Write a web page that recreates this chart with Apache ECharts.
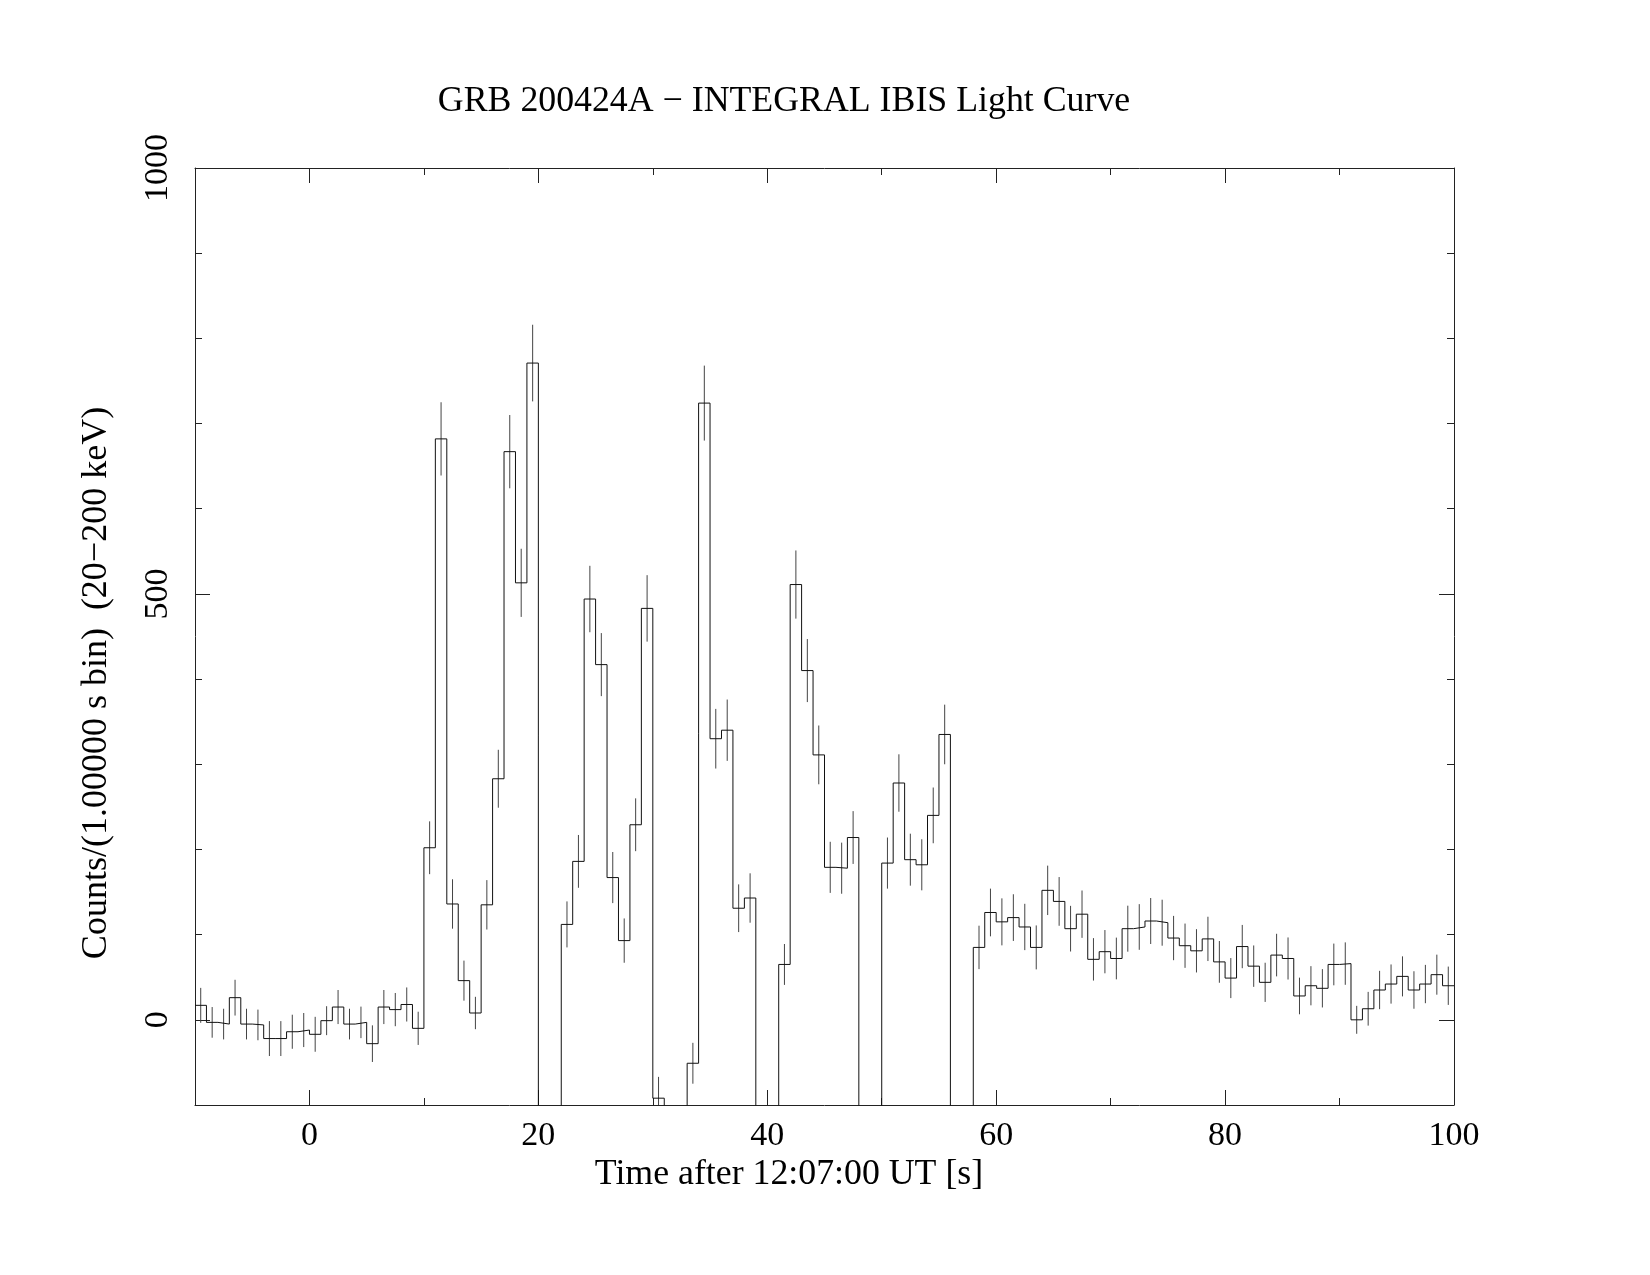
<!DOCTYPE html>
<html><head><meta charset="utf-8">
<script src="https://cdn.jsdelivr.net/npm/echarts@6/dist/echarts.min.js"></script>
<style>html,body{margin:0;padding:0;background:#fff}#c{width:1650px;height:1275px}</style>
</head><body><div id="c"></div>
<script>
// Bin start times (s after 12:07:00 UT), 1.0 s bins
const binStart = [-10,-9,-8,-7,-6,-5,-4,-3,-2,-1,0,1,2,3,4,5,6,7,8,9,10,11,12,13,14,15,16,17,18,19,
20,21,22,23,24,25,26,27,28,29,30,31,32,33,34,35,36,37,38,39,40,41,42,43,44,45,46,47,48,49,
50,51,52,53,54,55,56,57,58,59,60,61,62,63,64,65,66,67,68,69,70,71,72,73,74,75,76,77,78,79,
80,81,82,83,84,85,86,87,88,89,90,91,92,93,94,95,96,97,98,99];
const BIN_WIDTH = 1;
// Counts per bin (values below the plotted range are off-scale, estimated)
const counts = [17,-3,-5,26,-5,-6,-22,-22,-14,-12,-17,-1,15,-5,-3,-28,15,12,18,-10,
202,682,136,46,8,135,283,667,513,771,
-200,-200,112,186,494,417,167,93,229,483,
-92,-200,-200,-51,724,330,340,131,143,-200,
-200,65,511,410,311,179,178,214,-200,-200,
184,278,188,182,240,335,-200,-200,85,126,
115,120,109,85,152,139,107,124,71,80,
72,107,109,116,114,96,87,81,95,68,
49,86,63,44,76,72,28,40,37,65,
66,0,13,35,42,51,35,42,53,40];
// 1-sigma errors per bin (null = off-scale)
const errors = [20.5,18,18,21,18,18,20.5,20.5,20,20,20.5,17,20,18,18.5,21.5,20,19.5,20,19.5,
31,43,29,23.5,19,29,34,43,40,45,
null,null,27,31,39,37,30,26,31,39,
25,null,null,24,44,35,36,28,29,null,
null,24,40,37,34.5,30,30,31,null,null,
30,33.7,30.5,30,32.7,35,null,null,25.5,28,
27.6,27.4,27.2,25.8,29,28.6,26.8,27.8,24.9,25.4,
24.5,27,26.8,27,27,26,26,25.4,26,24.5,
23.5,25.4,24.3,23,25,24.7,21.5,23,22.5,24.5,
24.9,16.4,19.8,22.5,23,23.5,22,22.5,23.5,22.5];
const xTickLabels = [0,20,40,60,80,100];
const xMajorTicks = [0,20,40,60,80,100];
const yTickLabels = [0,500,1000];
const yMajorTicks = [0,500,1000];
const titleText = 'GRB 200424A \u2212 INTEGRAL IBIS Light Curve';
const xTitle = 'Time after 12:07:00 UT [s]';
const yTitle = 'Counts/(1.00000 s bin)  (20\u2212200 keV)';

const FONT = '"Liberation Serif", "Times New Roman", serif';
const AX = '#222';

const stepData = binStart.map((t, i) => [t, counts[i]]);
stepData.push([binStart[binStart.length - 1] + BIN_WIDTH, counts[counts.length - 1]]);
const errData = [];
binStart.forEach((t, i) => {
  if (errors[i] != null) errData.push([t + BIN_WIDTH / 2, counts[i] - errors[i], counts[i] + errors[i]]);
});

function plain(v) { return String(v); }

function xAx(pos, major, labels) {
  return {
    type: 'value', position: pos, min: -10, max: 100, interval: 10,
    axisLine: { show: !major, onZero: false, lineStyle: { color: AX, width: 1 } },
    axisTick: major
      ? { show: true, inside: true, length: 15, customValues: xMajorTicks, lineStyle: { color: AX } }
      : { show: true, inside: true, length: 7, lineStyle: { color: AX } },
    axisLabel: labels
      ? { show: true, customValues: xTickLabels, formatter: plain, fontFamily: FONT, fontSize: 34, color: '#000', margin: 14 }
      : { show: false },
    splitLine: { show: false }
  };
}
function yAx(pos, major, labels) {
  return {
    type: 'value', position: pos, min: -100, max: 1000, interval: 100,
    axisLine: { show: !major, onZero: false, lineStyle: { color: AX, width: 1 } },
    axisTick: major
      ? { show: true, inside: true, length: 15, customValues: yMajorTicks, lineStyle: { color: AX } }
      : { show: true, inside: true, length: 7, lineStyle: { color: AX } },
    axisLabel: labels
      ? { show: true, customValues: yTickLabels, formatter: plain, rotate: 90, fontFamily: FONT, fontSize: 34, color: '#000', margin: 20 }
      : { show: false },
    splitLine: { show: false }
  };
}

const chart = echarts.init(document.getElementById('c'), null, { renderer: 'canvas' });
chart.setOption({
  backgroundColor: '#fff',
  animation: false,
  grid: { left: 195, right: 196, top: 168, bottom: 170, containLabel: false },
  xAxis: [xAx('bottom', false, true), xAx('bottom', true, false), xAx('top', false, false), xAx('top', true, false)],
  yAxis: [yAx('left', false, true), yAx('left', true, false), yAx('right', false, false), yAx('right', true, false)],
  graphic: [
    { type: 'text', x: 784, y: 102, style: { text: titleText, font: '35.8px ' + FONT, fill: '#000', textAlign: 'center', textVerticalAlign: 'middle' } },
    { type: 'text', x: 789, y: 1175, style: { text: xTitle, font: '35.8px ' + FONT, fill: '#000', textAlign: 'center', textVerticalAlign: 'middle' } },
    { type: 'text', x: 97, y: 683, rotation: Math.PI / 2, style: { text: yTitle, font: '36px ' + FONT, fill: '#000', textAlign: 'center', textVerticalAlign: 'middle' } }
  ],
  series: [
    {
      type: 'line', xAxisIndex: 0, yAxisIndex: 0, step: 'end', symbol: 'none', clip: true,
      data: stepData, lineStyle: { color: '#111', width: 1 }
    },
    {
      type: 'custom', xAxisIndex: 0, yAxisIndex: 0, clip: true,
      encode: { x: 0, y: [1, 2] },
      data: errData,
      renderItem: function (params, api) {
        const x = api.value(0);
        const p1 = api.coord([x, api.value(1)]);
        const p2 = api.coord([x, api.value(2)]);
        return { type: 'line', shape: { x1: p1[0], y1: p1[1], x2: p2[0], y2: p2[1] }, style: { stroke: '#444', lineWidth: 1 } };
      }
    }
  ]
});
</script>
</body></html>
